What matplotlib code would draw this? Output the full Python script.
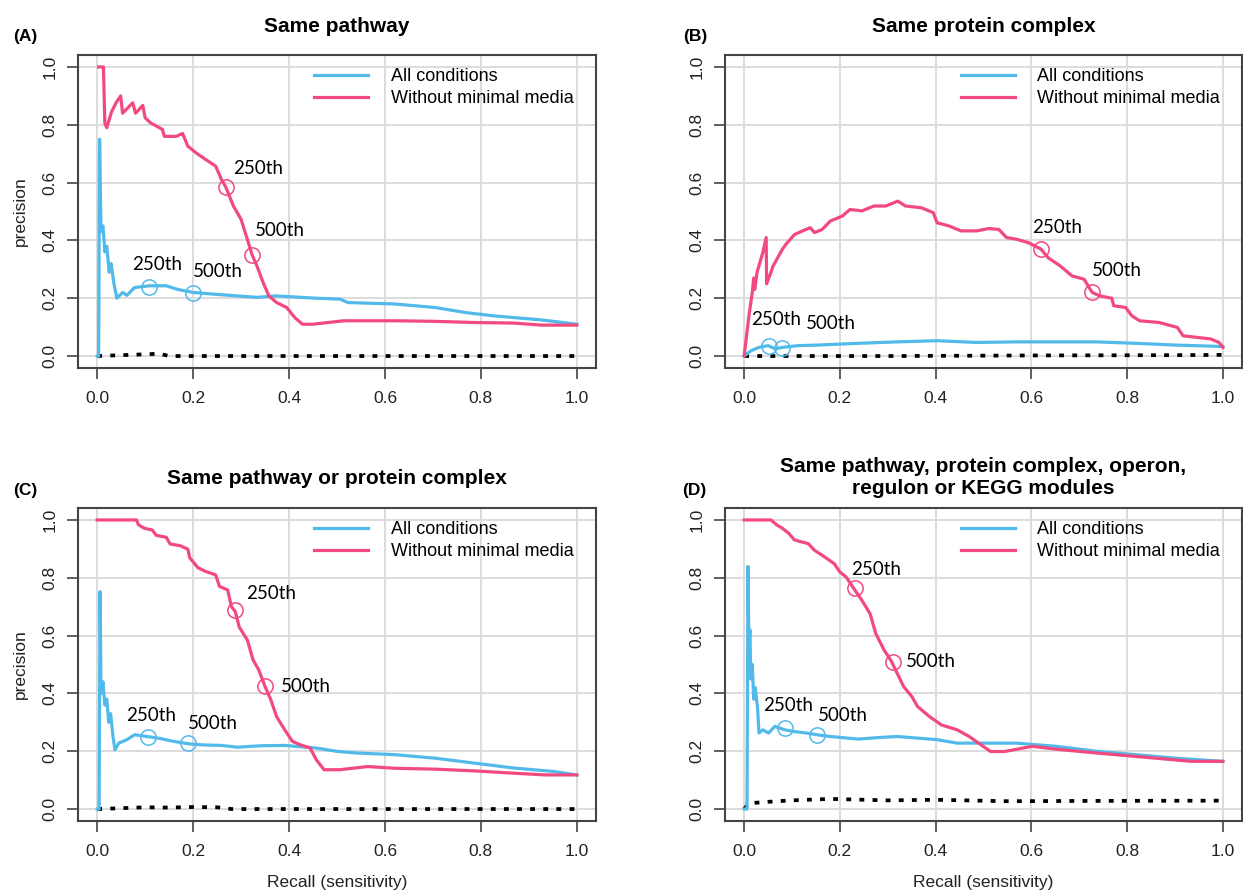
import matplotlib
matplotlib.use('Agg')
import matplotlib.pyplot as plt

plt.rcParams['font.family'] = ['Liberation Sans', 'DejaVu Sans']

BLUE = '#52BAEA'
PINK = '#F2497E'
W, H = 1243, 892

titles = ['Same pathway', 'Same protein complex', 'Same pathway or protein complex',
          'Same pathway, protein complex, operon,\nregulon or KEGG modules']
panel_tags = ['(A)', '(B)', '(C)', '(D)']
legend_labels = ['All conditions', 'Without minimal media']
rank_labels = ['250th', '500th']

# (A) same pathway
a_all_x = [0.0, 0.003, 0.005, 0.008, 0.012, 0.016, 0.02, 0.025, 0.029, 0.035, 0.041, 0.053, 0.062,
           0.078, 0.109, 0.144, 0.169, 0.2, 0.243, 0.292, 0.333, 0.374, 0.457, 0.506, 0.523,
           0.621, 0.704, 0.77, 0.827, 0.926, 1.0]
a_all_y = [0.0, 0.0, 0.75, 0.43, 0.45, 0.36, 0.38, 0.29, 0.32, 0.25, 0.2, 0.22, 0.21,
           0.237, 0.243, 0.243, 0.23, 0.22, 0.214, 0.208, 0.203, 0.208, 0.2, 0.197, 0.185,
           0.18, 0.168, 0.15, 0.139, 0.125, 0.11]
a_nomin_x = [0.003, 0.013, 0.016, 0.02, 0.03, 0.04, 0.049, 0.053, 0.074, 0.08, 0.095, 0.1, 0.111,
             0.136, 0.14, 0.165, 0.178, 0.189, 0.206, 0.226, 0.247, 0.259, 0.268, 0.284, 0.3,
             0.313, 0.323, 0.333, 0.346, 0.358, 0.374, 0.395, 0.412, 0.428, 0.449, 0.514, 0.621,
             0.704, 0.786, 0.868, 0.926, 1.0]
a_nomin_y = [1.0, 1.0, 0.805, 0.79, 0.845, 0.878, 0.9, 0.84, 0.876, 0.84, 0.867, 0.824, 0.807,
             0.784, 0.76, 0.76, 0.77, 0.726, 0.703, 0.68, 0.657, 0.611, 0.585, 0.519, 0.473,
             0.404, 0.35, 0.312, 0.254, 0.208, 0.185, 0.168, 0.133, 0.11, 0.11, 0.122, 0.122,
             0.12, 0.116, 0.114, 0.107, 0.107]
a_rand_x = [0.0, 0.05, 0.1, 0.13, 0.15, 0.3, 0.6, 1.0]
a_rand_y = [0.0, 0.003, 0.006, 0.008, 0.0, 0.0, 0.0, 0.0]
a_all_rank_x, a_all_rank_y = [0.109, 0.2], [0.24, 0.217]
a_nomin_rank_x, a_nomin_rank_y = [0.268, 0.323], [0.585, 0.35]

# (B) same protein complex
b_all_x = [0.0, 0.014, 0.031, 0.05, 0.065, 0.08, 0.113, 0.155, 0.238, 0.32, 0.403, 0.486, 0.569,
           0.735, 0.818, 0.9, 1.0]
b_all_y = [0.0, 0.018, 0.03, 0.036, 0.025, 0.03, 0.036, 0.038, 0.044, 0.049, 0.053, 0.047, 0.049,
           0.049, 0.044, 0.038, 0.033]
b_nomin_x = [0.0, 0.01, 0.017, 0.02, 0.022, 0.027, 0.039, 0.046, 0.047, 0.055, 0.06, 0.072, 0.08,
             0.089, 0.105, 0.122, 0.138, 0.147, 0.163, 0.18, 0.205, 0.221, 0.246, 0.271, 0.296,
             0.321, 0.337, 0.37, 0.395, 0.403, 0.428, 0.453, 0.486, 0.511, 0.532, 0.548, 0.569,
             0.594, 0.62, 0.635, 0.66, 0.685, 0.71, 0.727, 0.743, 0.768, 0.772, 0.797, 0.81,
             0.826, 0.867, 0.905, 0.917, 0.975, 0.992, 1.0]
b_nomin_y = [0.0, 0.139, 0.22, 0.27, 0.23, 0.29, 0.358, 0.41, 0.25, 0.285, 0.31, 0.346, 0.37,
             0.39, 0.42, 0.433, 0.444, 0.427, 0.438, 0.467, 0.484, 0.507, 0.502, 0.519, 0.519,
             0.536, 0.519, 0.513, 0.496, 0.461, 0.45, 0.433, 0.433, 0.441, 0.438, 0.41, 0.404,
             0.392, 0.37, 0.34, 0.312, 0.277, 0.266, 0.22, 0.208, 0.2, 0.174, 0.168, 0.139,
             0.122, 0.116, 0.099, 0.07, 0.059, 0.047, 0.03]
b_rand_x = [0.0, 0.3, 0.6, 0.9, 1.0]
b_rand_y = [0.0, 0.0, 0.002, 0.003, 0.004]
b_all_rank_x, b_all_rank_y = [0.052, 0.08], [0.035, 0.028]
b_nomin_rank_x, b_nomin_rank_y = [0.62, 0.727], [0.37, 0.22]

# (C) same pathway or protein complex
c_all_x = [0.0, 0.004, 0.006, 0.008, 0.012, 0.016, 0.02, 0.024, 0.028, 0.033, 0.037, 0.045, 0.062,
           0.078, 0.103, 0.128, 0.16, 0.189, 0.218, 0.259, 0.292, 0.342, 0.391, 0.457, 0.498,
           0.539, 0.621, 0.704, 0.786, 0.868, 0.951, 1.0]
c_all_y = [0.0, 0.0, 0.752, 0.4, 0.44, 0.36, 0.38, 0.3, 0.33, 0.25, 0.205, 0.228, 0.24,
           0.257, 0.251, 0.245, 0.234, 0.226, 0.222, 0.22, 0.214, 0.219, 0.22, 0.211, 0.2,
           0.194, 0.188, 0.176, 0.159, 0.142, 0.13, 0.118]
c_nomin_x = [0.0, 0.082, 0.086, 0.099, 0.115, 0.123, 0.144, 0.152, 0.173, 0.189, 0.193, 0.21, 0.226,
             0.247, 0.255, 0.272, 0.28, 0.288, 0.296, 0.313, 0.325, 0.337, 0.35, 0.362, 0.374,
             0.391, 0.407, 0.424, 0.444, 0.457, 0.473, 0.506, 0.564, 0.621, 0.704, 0.786, 0.868,
             0.934, 1.0]
c_nomin_y = [1.0, 1.0, 0.983, 0.971, 0.965, 0.947, 0.94, 0.917, 0.911, 0.899, 0.869, 0.835, 0.822,
             0.81, 0.77, 0.758, 0.7, 0.683, 0.63, 0.585, 0.516, 0.481, 0.424, 0.378, 0.32,
             0.274, 0.234, 0.222, 0.211, 0.17, 0.136, 0.136, 0.147, 0.141, 0.138, 0.132, 0.124,
             0.118, 0.118]
c_rand_x = [0.0, 0.05, 0.1, 0.15, 0.2, 0.25, 0.28, 0.5, 1.0]
c_rand_y = [0.0, 0.003, 0.006, 0.005, 0.007, 0.006, 0.0, 0.0, 0.0]
c_all_rank_x, c_all_rank_y = [0.105, 0.19], [0.25, 0.227]
c_nomin_rank_x, c_nomin_rank_y = [0.287, 0.35], [0.687, 0.424]

# (D) same pathway, complex, operon, regulon or KEGG module
d_all_x = [0.0, 0.006, 0.008, 0.01, 0.012, 0.014, 0.017, 0.02, 0.023, 0.028, 0.031, 0.039, 0.051,
           0.064, 0.085, 0.105, 0.13, 0.152, 0.18, 0.238, 0.287, 0.32, 0.403, 0.445, 0.569,
           0.652, 0.735, 0.818, 0.9, 1.0]
d_all_y = [0.0, 0.0, 0.839, 0.55, 0.62, 0.45, 0.5, 0.38, 0.42, 0.35, 0.263, 0.274, 0.263,
           0.286, 0.274, 0.268, 0.263, 0.257, 0.251, 0.242, 0.248, 0.251, 0.24, 0.228, 0.228,
           0.217, 0.2, 0.188, 0.176, 0.165]
d_nomin_x = [0.0, 0.056, 0.068, 0.08, 0.093, 0.105, 0.118, 0.134, 0.147, 0.163, 0.188, 0.2, 0.213,
             0.229, 0.246, 0.263, 0.275, 0.292, 0.308, 0.333, 0.35, 0.362, 0.387, 0.412, 0.445,
             0.47, 0.495, 0.515, 0.544, 0.602, 0.652, 0.735, 0.818, 0.934, 1.0]
d_nomin_y = [1.0, 1.0, 0.983, 0.971, 0.954, 0.931, 0.925, 0.918, 0.895, 0.878, 0.849, 0.82, 0.803,
             0.763, 0.722, 0.676, 0.607, 0.551, 0.51, 0.424, 0.39, 0.355, 0.32, 0.291, 0.274,
             0.251, 0.222, 0.199, 0.199, 0.217, 0.207, 0.194, 0.182, 0.165, 0.165]
d_rand_x = [0.0, 0.01, 0.05, 0.1, 0.18, 0.3, 0.4, 0.55, 0.7, 1.0]
d_rand_y = [0.0, 0.02, 0.025, 0.03, 0.035, 0.03, 0.032, 0.027, 0.028, 0.029]
d_all_rank_x, d_all_rank_y = [0.085, 0.152], [0.28, 0.257]
d_nomin_rank_x, d_nomin_rank_y = [0.232, 0.31], [0.763, 0.51]

ticks = [0.0, 0.2, 0.4, 0.6, 0.8, 1.0]


def rect(left, top, w, h):
    return [left / W, 1 - (top + h) / H, w / W, h / H]


fig = plt.figure(figsize=(W / 100, H / 100), dpi=100)

panels = [
    (rect(78, 55.4, 518, 312.2), a_all_x, a_all_y, a_nomin_x, a_nomin_y, a_rand_x, a_rand_y,
     a_all_rank_x, a_all_rank_y, a_nomin_rank_x, a_nomin_rank_y),
    (rect(725, 55.4, 517, 312.2), b_all_x, b_all_y, b_nomin_x, b_nomin_y, b_rand_x, b_rand_y,
     b_all_rank_x, b_all_rank_y, b_nomin_rank_x, b_nomin_rank_y),
    (rect(78, 508.4, 518, 312.2), c_all_x, c_all_y, c_nomin_x, c_nomin_y, c_rand_x, c_rand_y,
     c_all_rank_x, c_all_rank_y, c_nomin_rank_x, c_nomin_rank_y),
    (rect(725, 508.4, 517, 312.2), d_all_x, d_all_y, d_nomin_x, d_nomin_y, d_rand_x, d_rand_y,
     d_all_rank_x, d_all_rank_y, d_nomin_rank_x, d_nomin_rank_y),
]

# text placement for the rank labels: (dx, dy) from each circle, in data units
label_offsets = [
    ([(-0.037, 0.075), (0.0, 0.075)], [(0.016, 0.064), (0.006, 0.085)]),
    ([(-0.038, 0.093), (0.05, 0.086)], [(-0.018, 0.074), (0.0, 0.075)]),
    ([(-0.045, 0.073), (-0.001, 0.068)], [(0.023, 0.057), (0.033, 0.0)]),
    ([(-0.046, 0.078), (0.003, 0.065)], [(-0.009, 0.067), (0.027, 0.0)]),
]

title_y = [26, 26, 478, 477]
tag_pos = [(25, 37), (695, 37), (25, 490), (694, 490)]

for i, (pos, ax_x, ax_y, nm_x, nm_y, r_x, r_y, arx, ary, nrx, nry) in enumerate(panels):
    ax = fig.add_axes(pos)
    ax.set_xlim(-0.04, 1.04)
    ax.set_ylim(-0.04, 1.04)
    ax.set_xticks(ticks)
    ax.set_yticks(ticks)
    ax.set_xticklabels([f'{t:.1f}' for t in ticks])
    ax.set_yticklabels([f'{t:.1f}' for t in ticks], rotation=90, va='center')
    ax.grid(True, color='#dcdcdc', lw=1.4)
    ax.set_axisbelow(True)
    for s in ax.spines.values():
        s.set_color('#444444')
        s.set_linewidth(1.5)
    ax.tick_params(axis='both', length=8, width=1.2, color='#444444', labelsize=12.5,
                   labelcolor='#222222')
    ax.tick_params(axis='x', pad=9)
    ax.tick_params(axis='y', pad=7)

    ax.plot(r_x, r_y, color='black', lw=2.7, ls=(0, (1.3, 2.2)), zorder=2)
    ax.plot(ax_x, ax_y, color=BLUE, lw=2.3, label=legend_labels[0], zorder=3)
    ax.plot(nm_x, nm_y, color=PINK, lw=2.3, label=legend_labels[1], zorder=4)
    ax.plot(arx, ary, 'o', ms=11, mfc='none', mec=BLUE, mew=1.1, zorder=5)
    ax.plot(nrx, nry, 'o', ms=11, mfc='none', mec=PINK, mew=1.1, zorder=5)

    all_off, nm_off = label_offsets[i]
    for lab, x, y, (dx, dy) in zip(rank_labels, arx, ary, all_off):
        ax.text(x + dx, y + dy, lab, ha='left', va='center', fontsize=13.5, family='Lato')
    for lab, x, y, (dx, dy) in zip(rank_labels, nrx, nry, nm_off):
        ax.text(x + dx, y + dy, lab, ha='left', va='center', fontsize=13.5, family='Lato')

    ax.legend(loc='upper left', bbox_to_anchor=(0.456, 0.96), frameon=False, fontsize=13,
              handlelength=3.0, handletextpad=1.25, labelspacing=0.3, borderpad=0,
              borderaxespad=0)

    cx = (pos[0] + pos[2] / 2)
    fig.text(cx, 1 - title_y[i] / H, titles[i], ha='center', va='center', fontsize=15,
             fontweight='bold', linespacing=1.2)
    fig.text(tag_pos[i][0] / W, 1 - tag_pos[i][1] / H, panel_tags[i], ha='center',
             va='center', fontsize=12.5, fontweight='bold')
    if i in (0, 2):
        fig.text(20 / W, pos[1] + pos[3] / 2, 'precision', rotation=90, ha='center',
                 va='center', fontsize=12.5, color='#222222')
    if i in (2, 3):
        fig.text(cx, 1 - 883 / H, 'Recall (sensitivity)', ha='center', va='center',
                 fontsize=12.5, color='#222222')

fig.savefig('out.png', dpi=100)
